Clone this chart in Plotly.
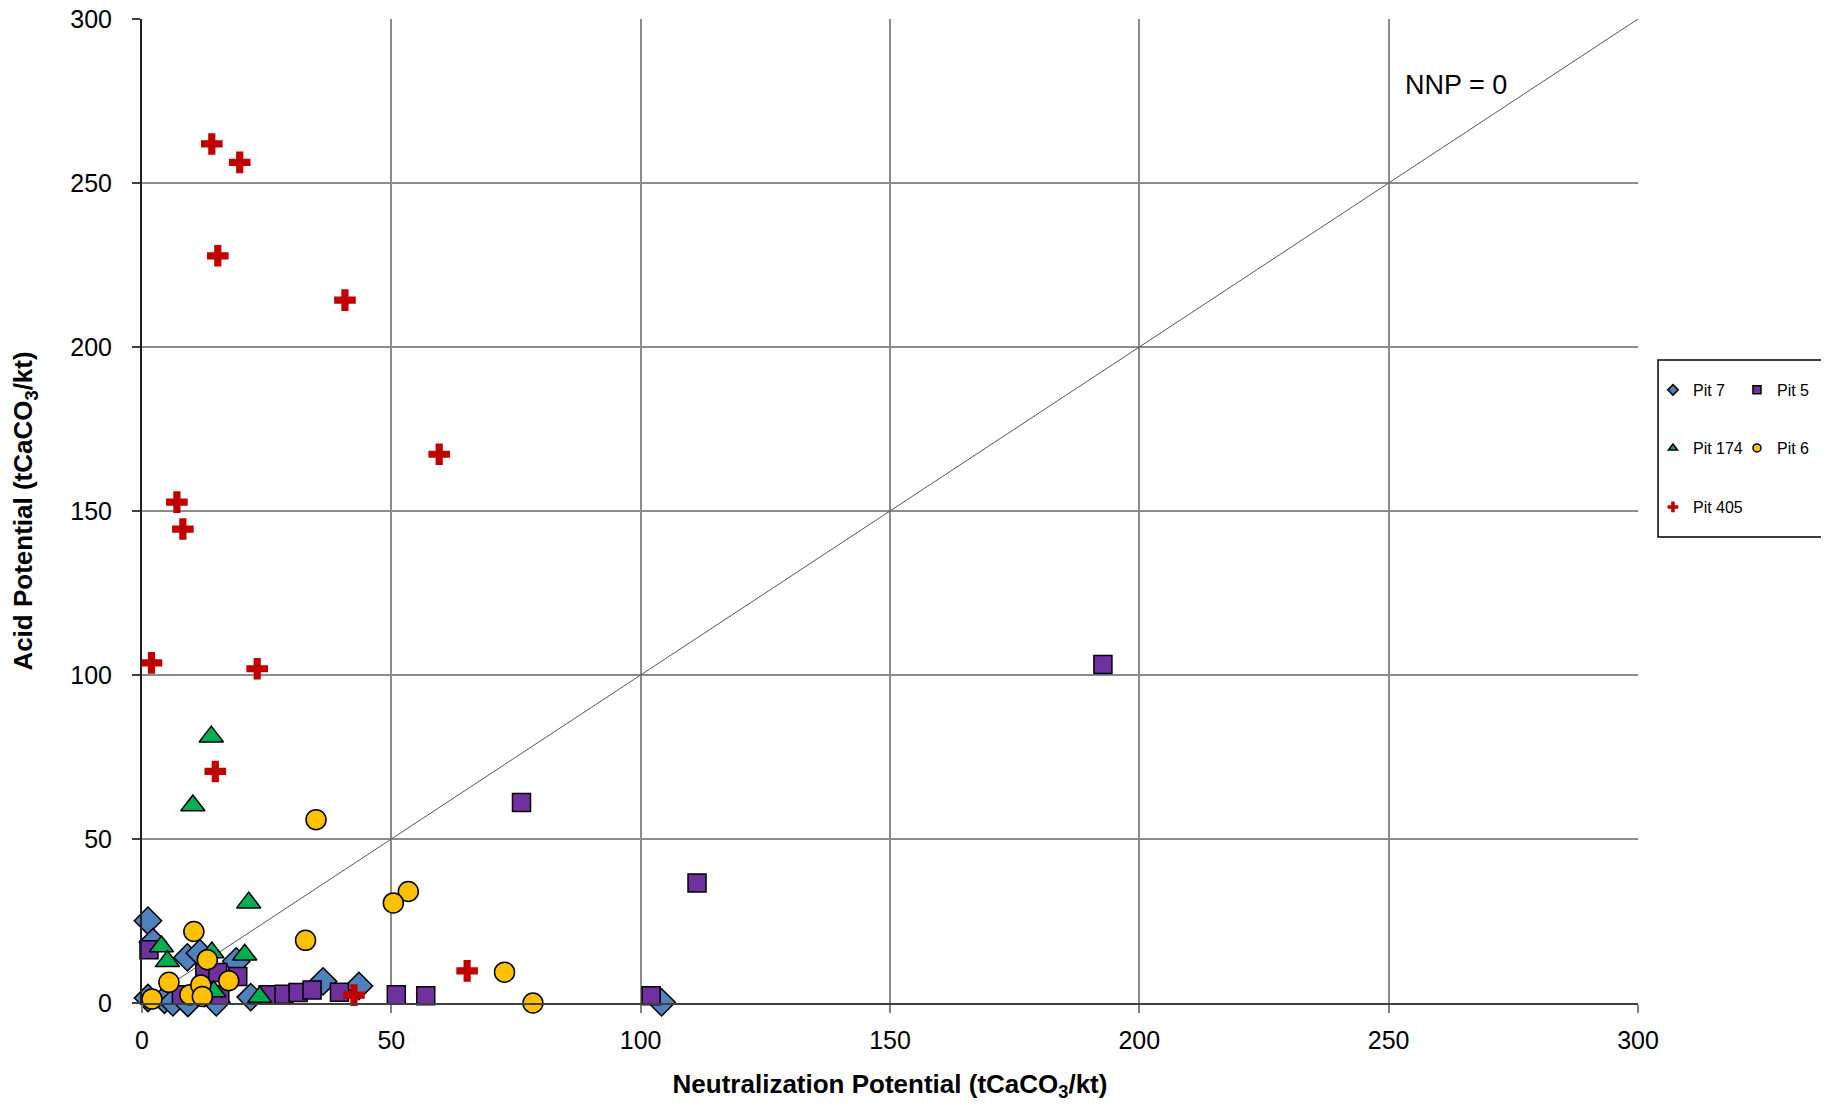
import plotly.graph_objects as go

# Neutralization potential (x) and acid potential (y), tCaCO3/kt
pit7_np = [1.2, 2.2, 9.1, 11.6, 18.9, 1.2, 4.5, 6.2, 9.2, 14.9, 12.5, 21.8, 36.3, 43.5, 104.2]
pit7_ap = [25.1, 18.5, 13.9, 15.2, 12.7, 1.5, 1.0, 0.2, 0.0, 0.2, 3.0, 1.8, 6.6, 5.2, 0.2]

pit5_np = [1.4, 12.6, 15.2, 19.2, 7.9, 15.6, 25.3, 28.5, 31.3, 34.1, 39.6, 51.0, 56.9, 102.1, 111.3, 76.1, 192.7]
pit5_ap = [16.2, 9.1, 9.3, 8.1, 2.5, 2.5, 2.5, 2.7, 3.2, 4.0, 3.3, 2.5, 2.2, 2.2, 36.6, 61.1, 103.2]

pit174_np = [13.9, 10.2, 21.4, 3.9, 5.1, 14.0, 20.6, 14.4, 23.6]
pit174_ap = [81.2, 60.2, 30.6, 17.2, 12.7, 15.4, 14.7, 3.5, 1.8]

pit6_np = [34.9, 53.4, 50.4, 10.4, 32.8, 13.1, 5.4, 17.4, 2.0, 9.6, 11.8, 12.1, 72.7, 78.4]
pit6_ap = [55.9, 34.0, 30.5, 21.8, 19.1, 13.2, 6.3, 6.8, 1.2, 2.5, 5.5, 2.0, 9.4, 0.0]

pit405_np = [14.0, 19.6, 15.2, 40.7, 59.6, 7.0, 8.2, 1.9, 23.1, 14.7, 65.2, 42.5]
pit405_ap = [261.9, 256.3, 227.8, 214.3, 167.3, 152.7, 144.5, 103.7, 101.9, 70.6, 9.8, 2.4]

nnp_line = [0, 300]

FONT = "Liberation Sans, Arial, sans-serif"

series = [
    ("Pit 7", pit7_np, pit7_ap, "diamond", "#4F81BD", 21, "legend"),
    ("Pit 5", pit5_np, pit5_ap, "square", "#7030A0", 18, "legend"),
    ("Pit 174", pit174_np, pit174_ap, "triangle-up", "#00B050", 21, "legend2"),
    ("Pit 6", pit6_np, pit6_ap, "circle", "#FFC000", 20, "legend2"),
    ("Pit 405", pit405_np, pit405_ap, "cross", "#C00000", 18, "legend3"),
]

fig = go.Figure()

# NNP = 0 line
fig.add_trace(go.Scatter(
    x=nnp_line, y=nnp_line, mode="lines",
    line=dict(color="#555555", width=1),
    showlegend=False, hoverinfo="skip"
))

for name, xs, ys, sym, col, size, leg in series:
    outline = 0 if sym == "cross" else 1.5
    fig.add_trace(go.Scatter(
        x=xs, y=ys, mode="markers", name=name,
        marker=dict(symbol=sym, color=col, size=size,
                    line=dict(color="black", width=outline)),
        cliponaxis=False, showlegend=False
    ))
    # small legend swatch
    fig.add_trace(go.Scatter(
        x=[None], y=[None], mode="markers", name=name, legend=leg,
        marker=dict(symbol=sym, color=col, size=8 if sym != "cross" else 9,
                    line=dict(color="black", width=0 if sym == "cross" else 1.5)),
        showlegend=True
    ))

fig.add_annotation(
    text="NNP = 0", x=263.5, y=280, xref="x", yref="y",
    showarrow=False, font=dict(family=FONT, size=27, color="black")
)

legend_common = dict(
    orientation="h", xanchor="left", yanchor="middle",
    x=1.010, bgcolor="rgba(0,0,0,0)", borderwidth=0,
    font=dict(family=FONT, size=16, color="black"),
    entrywidth=39, entrywidthmode="pixels", itemclick=False,
)

# page body adds an 8px offset, so the figure is sized to fit inside it
fig.update_layout(
    width=1813, height=1094,
    margin=dict(l=134, r=183, t=11, b=99, autoexpand=False),
    plot_bgcolor="white", paper_bgcolor="white",
    font=dict(family=FONT, size=25, color="black"),
    legend=dict(legend_common, y=0.623),
    legend2=dict(legend_common, y=0.564),
    legend3=dict(legend_common, y=0.504, entrywidth=80),
    shapes=[dict(type="rect", xref="paper", yref="paper",
                 x0=1.0134, x1=1.1263, y0=0.4736, y1=0.6535,
                 line=dict(color="black", width=1.5))],
)

fig.update_xaxes(
    range=[0, 300], dtick=50, tick0=0,
    showgrid=True, gridcolor="#8c8c8c", gridwidth=1.5,
    showline=True, linecolor="#404040", linewidth=2,
    ticks="outside", ticklen=8, tickcolor="#808080", tickwidth=1.5,
    zeroline=False, ticklabelstandoff=6, ticklabeloverflow="allow",
    tickfont=dict(family=FONT, size=25, color="black"),
    title=dict(text="<b>Neutralization Potential (tCaCO<sub>3</sub>/kt)</b>",
               standoff=30, font=dict(family=FONT, size=26, color="black")),
)
fig.update_yaxes(
    range=[0, 300], dtick=50, tick0=0,
    showgrid=True, gridcolor="#8c8c8c", gridwidth=1.5,
    showline=True, linecolor="#202020", linewidth=2,
    ticks="outside", ticklen=8, tickcolor="#404040", tickwidth=1.5,
    zeroline=False, ticklabelstandoff=15, ticklabeloverflow="allow",
    tickfont=dict(family=FONT, size=25, color="black"),
    title=dict(text="<b>Acid Potential (tCaCO<sub>3</sub>/kt)</b>",
               standoff=30, font=dict(family=FONT, size=26, color="black")),
)

fig.write_html("out.html")
